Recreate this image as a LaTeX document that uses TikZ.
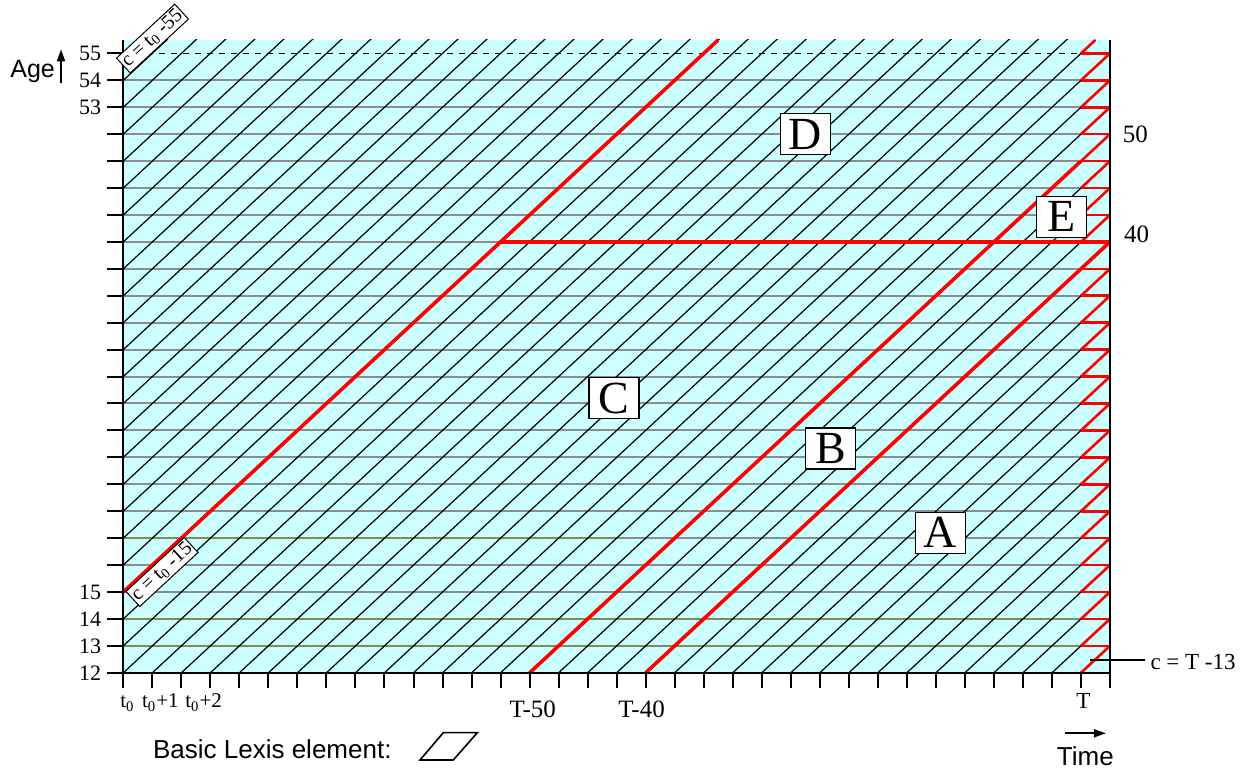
\documentclass[tikz,border=0pt]{standalone}
\usepackage{fontspec}
\setmainfont{Liberation Serif}
\newfontfamily\labelsans{Liberation Sans}
\usetikzlibrary{arrows.meta}
\definecolor{lexcyan}{RGB}{204,255,255}
\definecolor{rowgray}{RGB}{140,140,140}
\definecolor{rowolive}{RGB}{128,140,88}

\begin{document}
\begin{tikzpicture}[x=14.51pt,y=13.465pt,every node/.style={inner sep=0pt},rowline/.style={rowgray,line width=1pt},oliveline/.style={rowolive,line width=1pt},diag/.style={line width=0.6pt},cohort/.style={red,line width=1.8pt},zigzag/.style={red,line width=1.3pt},axis/.style={line width=1pt},region/.style={draw,fill=white,line width=0.6pt,font=\fontsize{23}{25}\selectfont,minimum width=25pt,minimum height=20.5pt},agelab/.style={anchor=east,font=\fontsize{11}{13}\selectfont},timelab/.style={anchor=base west,font=\fontsize{10.5}{12}\selectfont},bigserif/.style={font=\fontsize{12.5}{14}\selectfont},cohortlab/.style={draw,fill=white,line width=0.5pt,rotate=42.8,inner sep=1pt,font=\fontsize{10}{12}\selectfont},sanslab/.style={anchor=base west,font=\labelsans\fontsize{13}{15}\selectfont},pointer/.style={-{Triangle[length=6pt,width=4pt]},line width=0.9pt}]
\useasboundingbox (-4.249,-3.572) rectangle (38.756,24.983);
% Lexis surface
\fill[lexcyan] (0,0) rectangle (34,23.5);
\foreach \r in {1,...,22} \draw[rowline] (0,\r) -- (33,\r);
\foreach \r in {1,2} \draw[oliveline] (0,\r) -- (33,\r);
\draw[oliveline] (0,5) -- (17,5);
\draw[dashed,line width=0.8pt] (0,23) -- (33,23);
\begin{scope}
\clip (0,0) rectangle (33,23.5);
\foreach \i in {-24,...,32} \draw[diag] (\i,0) -- ++(24,24);
\end{scope}
% last year before T
\foreach \r in {1,...,23} \draw[zigzag] (33,\r) -- (34,\r);
\foreach \r in {0,...,22} \draw[zigzag] (33,\r) -- (34,\r+1);
\draw[zigzag] (33,23) -- (33.5,23.5);
% cohort borders
\draw[cohort] (0,3) -- (20.5,23.5);
\draw[cohort] (13,16) -- (34,16);
\draw[cohort] (14,0) -- (33,19);
\draw[cohort] (18,0) -- (34,16);
% axes
\draw[axis] (0,23.5) -- (0,-0.56);
\draw[axis] (34,23.5) -- (34,-0.56);
\draw[axis] (0,0) -- (34,0);
\foreach \r in {0,...,23} \draw[axis] (-0.56,\r) -- (0,\r);
\foreach \c in {1,...,33} \draw[axis] (\c,0) -- (\c,-0.56);
\foreach \a/\r in {12/0,13/1,14/2,15/3,53/21,54/22,55/23} \node[agelab] (age\a) at (-0.75,\r) {\a};
\node[sanslab,font=\labelsans\fontsize{12.5}{15}\selectfont] (agetitle) at (-3.904,22.12) {Age};
\draw[pointer] (-2.147,21.89) -- (-2.147,23.15);
\node[timelab] (t0) at (-0.114,-1.307) {t\textsubscript{0}};
\node[timelab] (t1) at (0.634,-1.307) {t\textsubscript{0}+1};
\node[timelab] (t2) at (2.126,-1.307) {t\textsubscript{0}+2};
\node[bigserif,anchor=base] (T50) at (14.11,-1.652) {T-50};
\node[bigserif,anchor=base] (T40) at (17.86,-1.652) {T-40};
\node[timelab,anchor=base,font=\fontsize{11.5}{13}\selectfont] (T) at (33.08,-1.318) {T};
\node[bigserif,anchor=base west] (a50) at (34.43,19.70) {50};
\node[bigserif,anchor=base west] (a40) at (34.47,15.99) {40};
\coordinate (lead) at (33.32,0.475);
\node[anchor=west,inner sep=2.5pt,font=\fontsize{11.5}{13}\selectfont] (cT) at (35.21,0.4) {c = T -13};
\draw[line width=0.8pt] (lead) -- (lead -| cT.west);
% regions
\node[region] (D) at (23.5,20.0) {D};
\node[region] (E) at (32.33,16.93) {E};
\node[region] (C) at (16.91,10.2) {C};
\node[region] (B) at (24.37,8.33) {B};
\node[region] (A) at (28.16,5.2) {A};
\node[cohortlab] (c15) at (1.334,3.743) {c = t\textsubscript{0} -15};
\node[cohortlab] (c55) at (1.006,23.55) {c = t\textsubscript{0} -55};
% legend
\node[sanslab] (basic) at (1.013,-3.175) {Basic Lexis element:};
\draw[line width=0.8pt] (10.224,-3.238) -- (11.372,-3.238) -- (12.199,-2.224) -- (11.027,-2.224) -- cycle;
\node[sanslab] (time) at (32.16,-3.43) {Time};
\draw[pointer] (32.45,-2.247) -- (33.86,-2.247);
\end{tikzpicture}
\end{document}
